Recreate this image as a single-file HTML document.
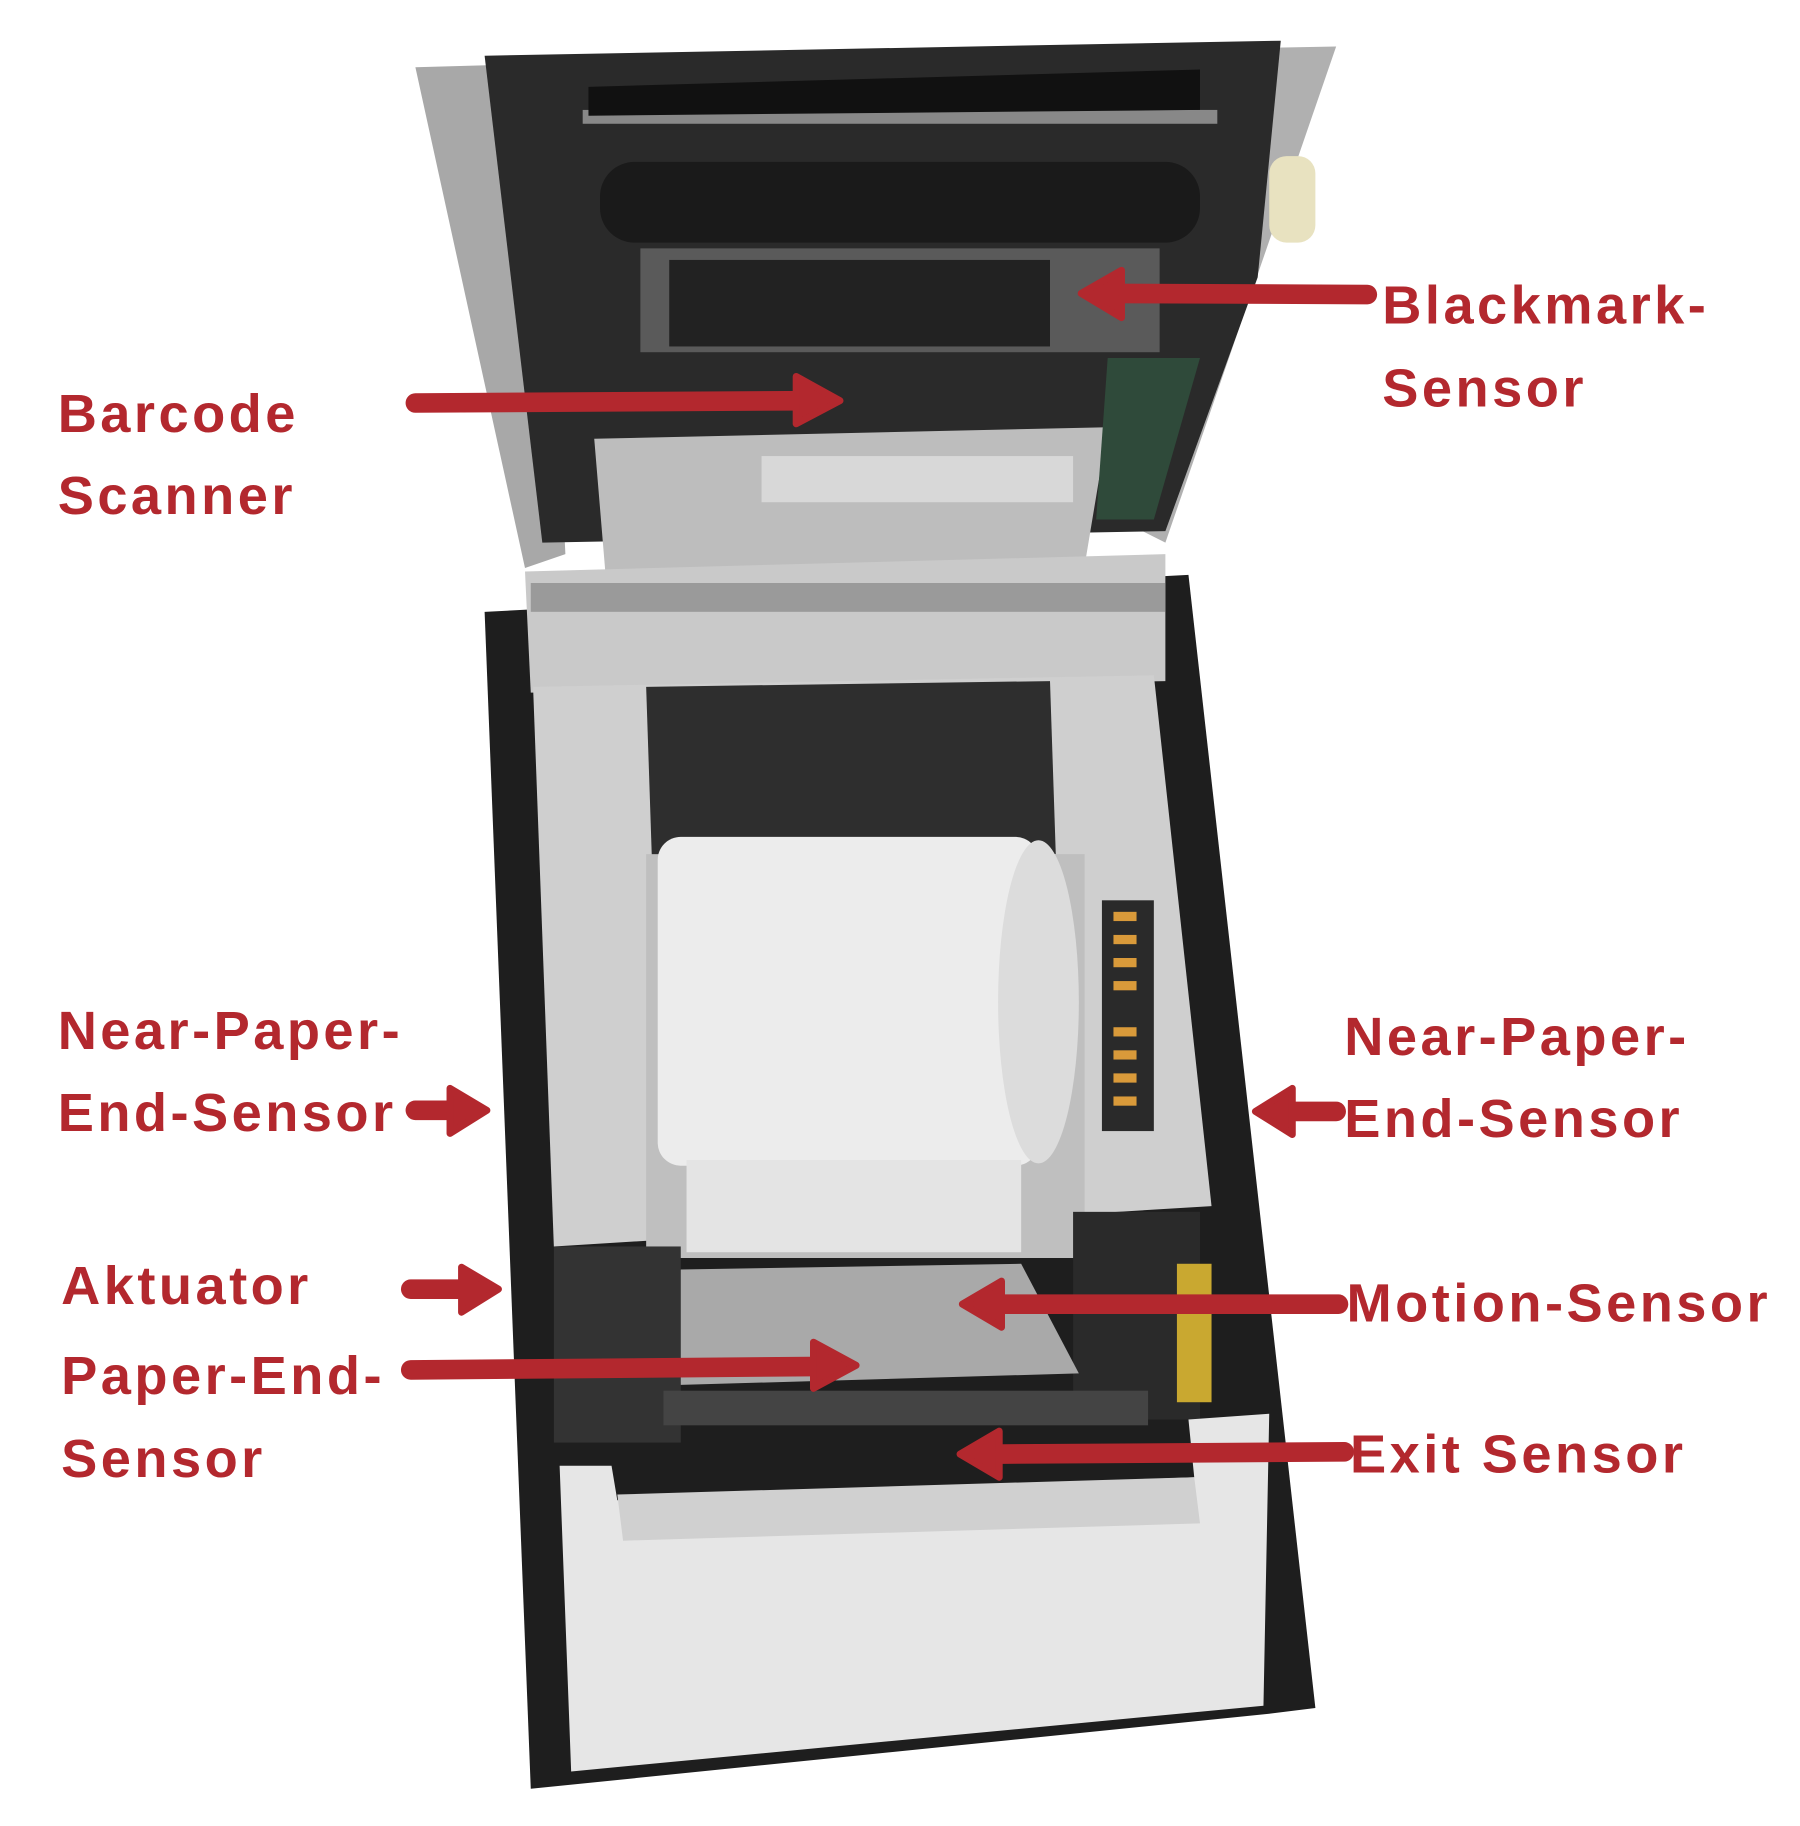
<!DOCTYPE html>
<html><head><meta charset="utf-8"><style>
html,body{margin:0;padding:0;background:#fff;}
svg{display:block}
text{font-family:"Liberation Sans",sans-serif;font-weight:bold;fill:#b3282e;font-size:47px;letter-spacing:3px}
</style></head><body>
<svg width="1800" height="1826" viewBox="0 0 1560 1582" xmlns="http://www.w3.org/2000/svg">
<rect width="1560" height="1582" fill="#fff"/>
<!-- lid -->
<polygon points="360,58 470,55 490,480 455,492" fill="#a8a8a8"/>
<polygon points="1060,42 1158,40 1010,470 990,460" fill="#b0b0b0"/>
<polygon points="420,48 1110,35 1090,240 1010,460 470,470" fill="#2a2a2a"/>
<rect x="520" y="140" width="520" height="70" rx="30" fill="#1a1a1a"/>
<rect x="505" y="95" width="550" height="12" fill="#888"/>
<polygon points="510,75 1040,60 1040,95 510,100" fill="#111"/>
<rect x="555" y="215" width="450" height="90" fill="#5a5a5a"/>
<rect x="580" y="225" width="330" height="75" fill="#222"/>
<polygon points="515,380 960,370 940,490 525,500" fill="#bdbdbd"/>
<rect x="660" y="395" width="270" height="40" fill="#d8d8d8"/>
<polygon points="960,310 1040,310 1000,450 950,450" fill="#2f4a3a"/>
<rect x="1100" y="135" width="40" height="75" rx="15" fill="#e8e2c0"/>
<!-- base body -->
<polygon points="420,530 1030,498 1140,1480 1100,1485 460,1550" fill="#1e1e1e"/>
<polygon points="455,495 1010,480 1010,590 460,600" fill="#c9c9c9"/>
<rect x="460" y="505" width="550" height="25" fill="#9a9a9a"/>
<polygon points="462,595 1000,585 1050,1045 480,1080" fill="#cfcfcf"/>
<polygon points="560,595 910,590 915,740 565,745" fill="#2e2e2e"/>
<rect x="560" y="740" width="380" height="350" fill="#bfbfbf"/>
<rect x="570" y="725" width="330" height="285" rx="20" fill="#ececec"/>
<ellipse cx="900" cy="868" rx="35" ry="140" fill="#dcdcdc"/>
<rect x="595" y="1005" width="290" height="80" fill="#e4e4e4"/>
<rect x="955" y="780" width="45" height="200" fill="#2a2a2a"/>
<g fill="#d99a3a"><rect x="965" y="790" width="20" height="8"/><rect x="965" y="810" width="20" height="8"/><rect x="965" y="830" width="20" height="8"/><rect x="965" y="850" width="20" height="8"/><rect x="965" y="890" width="20" height="8"/><rect x="965" y="910" width="20" height="8"/><rect x="965" y="930" width="20" height="8"/><rect x="965" y="950" width="20" height="8"/></g>
<rect x="480" y="1080" width="110" height="170" fill="#333"/>
<rect x="930" y="1050" width="110" height="180" fill="#2a2a2a"/>
<rect x="1020" y="1095" width="30" height="120" fill="#c9a830"/>
<polygon points="590,1100 885,1095 935,1190 590,1200" fill="#a9a9a9"/>
<rect x="575" y="1205" width="420" height="30" fill="#444"/>
<polygon points="485,1270 530,1270 535,1300 1035,1280 1030,1230 1100,1225 1095,1478 495,1535" fill="#e6e6e6"/>
<polygon points="535,1295 1035,1280 1040,1320 540,1335" fill="#d0d0d0"/>
<!-- arrows -->
<g stroke="#b3282e" stroke-width="17" stroke-linecap="round" fill="none">
<line x1="360" y1="349" x2="705" y2="347"/>
<line x1="1185" y1="255" x2="960" y2="254"/>
<line x1="360" y1="962" x2="398" y2="962"/>
<line x1="1158" y1="963" x2="1110" y2="963"/>
<line x1="356" y1="1117" x2="408" y2="1117"/>
<line x1="356" y1="1187" x2="715" y2="1184"/>
<line x1="1160" y1="1130" x2="860" y2="1130"/>
<line x1="1165" y1="1258" x2="858" y2="1260"/>
</g>
<g fill="#b3282e" stroke="#b3282e" stroke-width="6" stroke-linejoin="round">
<polygon points="690,326 728,347 690,367"/>
<polygon points="972,234 937,254 972,275"/>
<polygon points="390,943 422,962 390,982"/>
<polygon points="1120,943 1088,963 1120,983"/>
<polygon points="400,1098 432,1117 400,1137"/>
<polygon points="705,1163 742,1183 705,1203"/>
<polygon points="868,1110 834,1130 868,1150"/>
<polygon points="866,1240 832,1260 866,1280"/>
</g>
<!-- labels -->
<text x="50" y="374">Barcode</text>
<text x="50" y="445">Scanner</text>
<text x="1198" y="280">Blackmark-</text>
<text x="1198" y="352">Sensor</text>
<text x="50" y="909">Near-Paper-</text>
<text x="50" y="980">End-Sensor</text>
<text x="1165" y="914">Near-Paper-</text>
<text x="1165" y="985">End-Sensor</text>
<text x="53" y="1130">Aktuator</text>
<text x="53" y="1208">Paper-End-</text>
<text x="53" y="1280">Sensor</text>
<text x="1167" y="1145">Motion-Sensor</text>
<text x="1170" y="1276">Exit Sensor</text>
</svg>
</body></html>
